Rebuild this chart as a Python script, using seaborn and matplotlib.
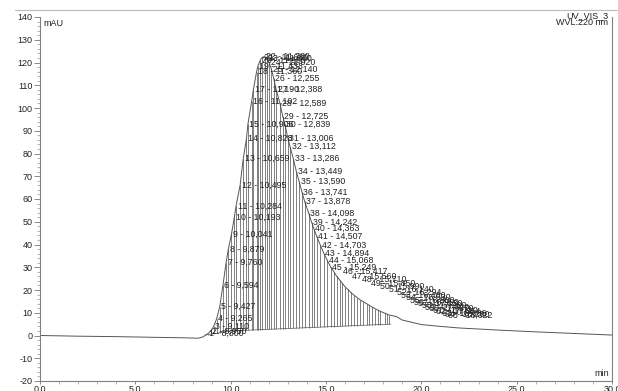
import numpy as np
import matplotlib
matplotlib.use("Agg")
import matplotlib.pyplot as plt
import seaborn as sns

# ---------------- data ----------------
# baseline before the peak
pre_time = [0.0, 2.0, 4.0, 6.0, 7.5, 8.3, 8.55]
pre_mau = [0.0, -0.3, -0.5, -0.8, -1.0, -1.2, -0.6]

# fraction marks: number, start time (min), signal at that time (mAU)
frac_num = list(range(1, 66))
frac_time = [8.800, 8.950, 9.110, 9.265, 9.427, 9.594, 9.760, 9.879, 10.041, 10.193,
             10.284, 10.495, 10.659, 10.828, 10.906, 11.102, 11.190, 11.360, 11.433, 11.550,
             11.660, 11.780, 11.900, 12.020, 12.140, 12.255, 12.388, 12.589, 12.725, 12.839,
             13.006, 13.112, 13.286, 13.449, 13.590, 13.741, 13.878, 14.098, 14.242, 14.363,
             14.507, 14.703, 14.894, 15.068, 15.249, 15.417, 15.560, 15.710, 15.850, 15.990,
             16.140, 16.294, 16.460, 16.630, 16.800, 16.960, 17.130, 17.280, 17.420, 17.570,
             17.710, 17.854, 18.086, 18.200, 18.322]
frac_mau = [0.8, 2.0, 4.0, 7.4, 12.7, 22.0, 32.0, 38.0, 44.5, 52.0,
            57.0, 66.0, 77.7, 86.5, 93.0, 103.0, 108.0, 116.0, 118.5, 121.0,
            122.3, 122.6, 122.0, 120.0, 117.0, 113.0, 108.0, 102.0, 96.5, 93.0,
            86.5, 83.0, 77.7, 72.0, 67.7, 63.0, 59.0, 53.7, 49.8, 47.0,
            43.7, 39.7, 36.0, 33.0, 30.0, 28.0, 26.0, 24.5, 23.0, 21.5,
            20.3, 19.0, 17.8, 16.7, 15.6, 14.8, 14.0, 13.2, 12.5, 11.8,
            11.2, 10.6, 9.8, 9.4, 9.0]

# signal after the last fraction
post_time = [18.7, 19.0, 19.4, 20.0, 21.0, 22.0, 24.0, 25.0, 26.0, 28.0, 30.0]
post_mau = [8.3, 6.8, 6.0, 4.8, 4.0, 3.3, 2.4, 2.0, 1.6, 0.9, 0.2]

# drop-line baseline under the fractions
base_time = [8.65, 10.0, 15.0, 18.4]
base_mau = [0.2, 2.0, 3.8, 5.0]

x_ticks = [0, 5, 10, 15, 20, 25, 30]
x_tick_labels = ["0,0", "5,0", "10,0", "15,0", "20,0", "25,0", "30,0"]
y_ticks = [-20, -10, 0, 10, 20, 30, 40, 50, 60, 70, 80, 90, 100, 110, 120, 130, 140]
y_tick_labels = [str(v) for v in y_ticks]

# ---------------- plotting ----------------
sns.set_theme(style="ticks")
plt.rcParams["font.family"] = ["Liberation Sans", "DejaVu Sans"]
plt.rcParams["axes.unicode_minus"] = False

fig = plt.figure(figsize=(6.18, 3.91), dpi=100)
ax = fig.add_axes([40 / 618, 10 / 391, (612 - 40) / 618, (383 - 19) / 391])

curve_t = np.array(pre_time + frac_time + post_time)
curve_y = np.array(pre_mau + frac_mau + post_mau)
sns.lineplot(x=curve_t, y=curve_y, ax=ax, color="#555555", linewidth=0.7,
             sort=False, estimator=None)

ft = np.array(frac_time)
fy = np.array(frac_mau)
fb = np.interp(ft, base_time, base_mau)
ax.vlines(ft, fb, fy, colors="#3a3a3a", linewidth=0.45)
ax.plot(base_time, base_mau, color="#555555", linewidth=0.5)

txt_color = "#222222"
for n, t, h in zip(frac_num, frac_time, frac_mau):
    label = f"{n} - {t:.3f}".replace(".", ",")
    off_px = 1.5
    if t > 15.25:
        off_px += min(45.0, (t - 15.25) * 45.0) + max(0.0, t - 16.3) * 6.0
    ax.annotate(label, xy=(t, h), xytext=(off_px * 0.72, 0),
                textcoords="offset points", ha="left", va="center",
                fontsize=6.3, color=txt_color)

ax.set_xlim(0, 30)
ax.set_ylim(-20, 140)
ax.set_xticks(np.arange(0, 31, 1), minor=True)
ax.set_yticks(np.arange(-20, 141, 2), minor=True)
ax.set_xticks(x_ticks, labels=x_tick_labels)
ax.set_yticks(y_ticks, labels=y_tick_labels)
ax.tick_params(axis="both", which="major", direction="out", length=4, width=0.6,
               color="#777777", labelsize=6.5, labelcolor=txt_color, pad=1.2)
ax.tick_params(axis="x", which="major", length=2.5, pad=0.5)
ax.tick_params(axis="both", which="minor", direction="out", length=2, width=0.5,
               color="#999999")
ax.set_xlabel("")
ax.set_ylabel("")

for side in ["left", "bottom", "right"]:
    ax.spines[side].set_color("#808080")
    ax.spines[side].set_linewidth(0.8)
ax.spines["top"].set_visible(False)
ax.spines["right"].set_visible(True)

ax.text(0.006, 0.995, "mAU", transform=ax.transAxes, ha="left", va="top",
        fontsize=6.5, color=txt_color)
ax.text(0.995, 0.008, "min", transform=ax.transAxes, ha="right", va="bottom",
        fontsize=6.5, color=txt_color)
ax.text(0.993, 0.998, "WVL:220 nm", transform=ax.transAxes, ha="right", va="top",
        fontsize=6.5, color=txt_color)
fig.text(608 / 618, 1 - 11 / 391, "UV_VIS_3", ha="right", va="top",
         fontsize=6.5, color=txt_color)
fig.add_artist(plt.Line2D([15 / 618, 1.0], [1 - 10 / 391, 1 - 10 / 391],
                          color="#bbbbbb", linewidth=0.8))

fig.savefig("out.png", dpi=100)
